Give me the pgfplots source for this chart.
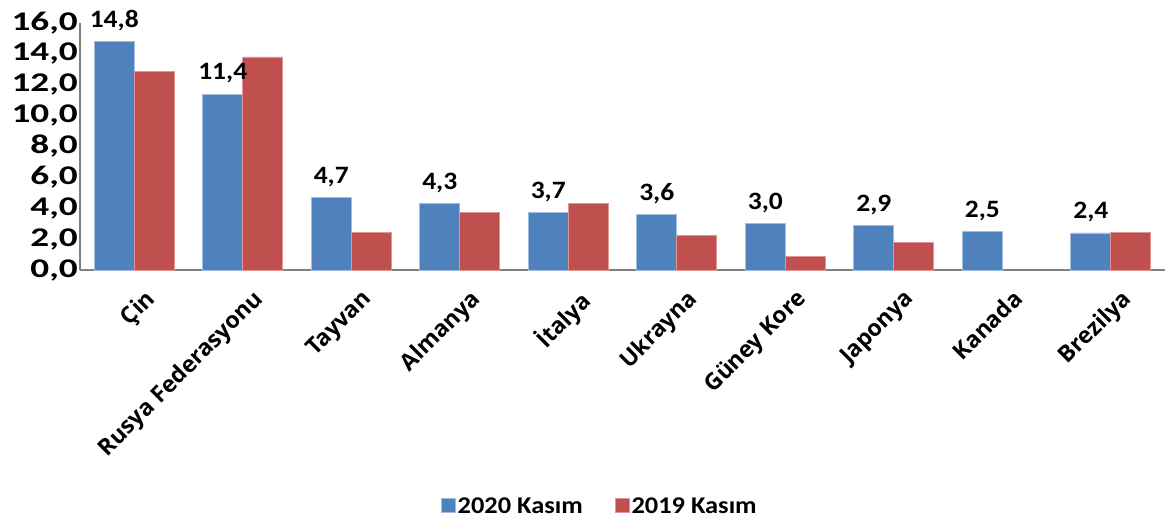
\documentclass[border=0pt]{standalone}
\usepackage{pgfplots}
\pgfplotsset{compat=1.18}
\usepackage{fontspec}
\setmainfont{Carlito}[FakeStretch=1.1]
\newfontfamily\tickfont{Carlito}[FakeStretch=1.38]
\newfontfamily\catfont{Open Sans}
\definecolor{bblue}{RGB}{79,129,189}
\definecolor{bred}{RGB}{192,80,77}
\definecolor{bblueedge}{RGB}{160,190,225}
\definecolor{brededge}{RGB}{225,150,148}
\begin{document}
\begin{tikzpicture}[x=1pt,y=1pt]
\useasboundingbox (0,0) rectangle (1168,520);
\begin{axis}[
  at={(80pt,250pt)}, anchor=south west,
  width=1085pt, height=247pt, scale only axis,
  xmin=-0.5, xmax=9.5, ymin=0, ymax=16,
  axis lines=left,
  axis line style={-, draw=gray, line width=1.6pt},
  ytick={0,2,...,16},
  major tick length=0pt,
  y tick label style={/pgf/number format/.cd, fixed, fixed zerofill, precision=1, use comma, assume math mode=true,
    /tikz/.cd, font=\tickfont\bfseries\fontsize{27}{27}\selectfont, inner sep=2pt},
  xtick={0,...,9},
  xticklabels={Çin,Rusya Federasyonu,Tayvan,Almanya,İtalya,Ukrayna,Güney Kore,Japonya,Kanada,Brezilya},
  x tick label style={rotate=45, anchor=north east, font=\catfont\bfseries\fontsize{23}{23}\selectfont, inner sep=2pt, yshift=-17pt, xshift=-4pt},
  ybar=0pt, bar width=40pt,
  legend style={at={(0.479,-0.955)}, anchor=center, draw=none, legend columns=2,
    font=\bfseries\fontsize{24}{24}\selectfont,
    /tikz/every even column/.append style={column sep=30pt}},
  legend image code/.code={\fill[#1] (0pt,-7pt) rectangle (14pt,7pt);},
]
\addplot+[fill=bblue, draw=bblueedge, line width=0.8pt,
  nodes near coords={\pgfmathprintnumber[fixed,fixed zerofill,precision=1,use comma,assume math mode=true]{\pgfplotspointmeta}},
  every node near coord/.append style={font=\bfseries\fontsize{25}{25}\selectfont, text=black, yshift=7pt}]
  coordinates {(0,14.8) (1,11.4) (2,4.7) (3,4.3) (4,3.7) (5,3.6) (6,3.0) (7,2.9) (8,2.5) (9,2.4)};
\addplot+[fill=bred, draw=brededge, line width=0.8pt]
  coordinates {(0,12.85) (1,13.8) (2,2.42) (3,3.7) (4,4.29) (5,2.23) (6,0.9) (7,1.78) (9,2.45)};
\legend{2020 Kasım, 2019 Kasım}
\end{axis}
\end{tikzpicture}
\end{document}
